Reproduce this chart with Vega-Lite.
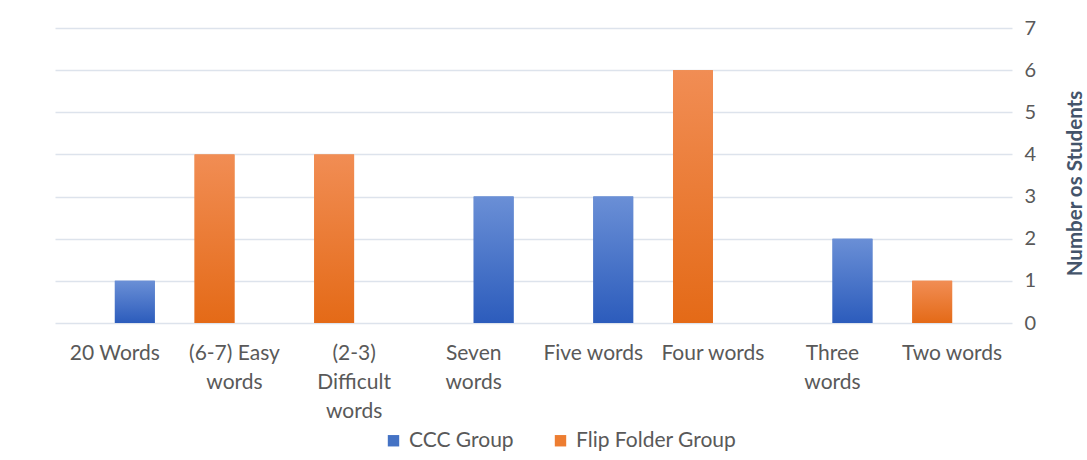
{
  "$schema": "https://vega.github.io/schema/vega-lite/v6.json",
  "autosize": {"type": "none"},
  "width": 957,
  "height": 295,
  "padding": {"left": 55, "top": 28, "right": 75, "bottom": 137},
  "background": "white",
  "config": {
    "view": {"stroke": null},
    "font": "Lato"
  },
  "data": {
    "values": [
      {"category": "20 Words", "group": "CCC Group", "students": 1},
      {"category": "20 Words", "group": "Flip Folder Group", "students": 0},
      {"category": "(6-7) Easy|words", "group": "CCC Group", "students": 0},
      {"category": "(6-7) Easy|words", "group": "Flip Folder Group", "students": 4},
      {"category": "(2-3)|Difficult|words", "group": "CCC Group", "students": 0},
      {"category": "(2-3)|Difficult|words", "group": "Flip Folder Group", "students": 4},
      {"category": "Seven|words", "group": "CCC Group", "students": 3},
      {"category": "Seven|words", "group": "Flip Folder Group", "students": 0},
      {"category": "Five words", "group": "CCC Group", "students": 3},
      {"category": "Five words", "group": "Flip Folder Group", "students": 0},
      {"category": "Four words", "group": "CCC Group", "students": 0},
      {"category": "Four words", "group": "Flip Folder Group", "students": 6},
      {"category": "Three|words", "group": "CCC Group", "students": 2},
      {"category": "Three|words", "group": "Flip Folder Group", "students": 0},
      {"category": "Two words", "group": "CCC Group", "students": 0},
      {"category": "Two words", "group": "Flip Folder Group", "students": 1}
    ]
  },
  "encoding": {
    "x": {
      "field": "category",
      "type": "nominal",
      "sort": null,
      "scale": {"paddingInner": 0.333, "paddingOuter": 0.167},
      "axis": {
        "title": null,
        "labelAngle": 0,
        "labelExpr": "split(datum.label, '|')",
        "labelFontSize": 21,
        "labelLineHeight": 29,
        "labelColor": "#595959",
        "labelPadding": 19,
        "ticks": false,
        "domain": false,
        "labelBaseline": "top"
      }
    },
    "xOffset": {
      "field": "group",
      "type": "nominal",
      "sort": ["Flip Folder Group", "CCC Group"],
      "scale": {"domain": ["Flip Folder Group", "CCC Group"], "paddingInner": 0, "paddingOuter": 0}
    },
    "y": {
      "field": "students",
      "type": "quantitative",
      "scale": {"domain": [0, 7], "nice": false},
      "axis": {
        "orient": "right",
        "title": "Number os Students",
        "titleFontSize": 20.5,
        "titleFontWeight": "bold",
        "titleColor": "#44546a",
        "titleAngle": 270,
        "titleX": 63,
        "titleY": 155,
        "titleAlign": "center",
        "titleBaseline": "middle",
        "values": [0, 1, 2, 3, 4, 5, 6, 7],
        "labelOverlap": false,
        "labelFontSize": 20,
        "labelColor": "#595959",
        "labelPadding": 12,
        "ticks": false,
        "domain": false,
        "gridColor": "#dde3ec",
        "gridWidth": 1.5
      }
    }
  },
  "layer": [
    {
      "mark": {"type": "bar"},
      "encoding": {
        "color": {
          "field": "group",
          "type": "nominal",
          "scale": {"domain": ["CCC Group", "Flip Folder Group"], "range": ["#4472c4", "#ed7d31"]},
          "legend": {
            "title": null,
            "orient": "none",
            "direction": "horizontal",
            "legendX": 328,
            "legendY": 402,
            "symbolType": "square",
            "symbolSize": 130,
            "symbolStrokeWidth": 0,
            "labelFontSize": 21,
            "labelLimit": 400,
            "labelColor": "#595959",
            "columnPadding": 36,
            "labelOffset": 5
          }
        }
      }
    },
    {
      "transform": [{"filter": "datum.group == 'CCC Group'"}],
      "mark": {
        "type": "bar",
        "color": {
          "gradient": "linear",
          "x1": 0, "y1": 0, "x2": 0, "y2": 1,
          "stops": [
            {"offset": 0, "color": "#6a8fd6"},
            {"offset": 1, "color": "#2c5cbc"}
          ]
        }
      },
      "encoding": {}
    },
    {
      "transform": [{"filter": "datum.group == 'Flip Folder Group'"}],
      "mark": {
        "type": "bar",
        "color": {
          "gradient": "linear",
          "x1": 0, "y1": 0, "x2": 0, "y2": 1,
          "stops": [
            {"offset": 0, "color": "#f18d54"},
            {"offset": 1, "color": "#e46a17"}
          ]
        }
      },
      "encoding": {}
    }
  ]
}
